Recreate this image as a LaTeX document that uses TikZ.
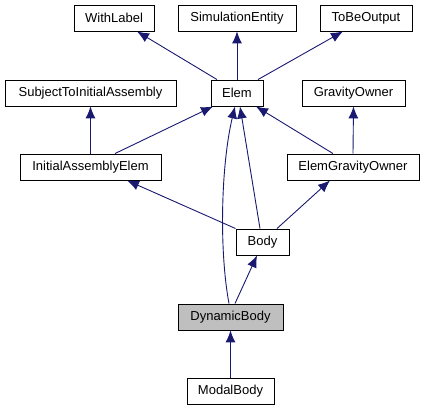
\documentclass[tikz,border=0pt]{standalone}
\usepackage{fontspec}
\setmainfont{Liberation Sans}
\usepackage{tikz}
\usetikzlibrary{arrows.meta,positioning}

\begin{document}
\begin{tikzpicture}[x=1pt,y=-1pt,
	cls/.style={draw=black,fill=white,line width=0.9pt,inner sep=0pt,minimum height=26pt,font=\fontsize{13}{15}\selectfont},
	inherit/.style={draw=navyline,line width=0.9pt,-{Latex[length=12pt,width=10pt]}}]
	\definecolor{navyline}{HTML}{191970}
	\useasboundingbox (0,0) rectangle (424,411);
	%% the classes
	\node[cls,minimum width=80pt] (withlabel) at (114,18) {WithLabel};
	\node[cls,minimum width=118pt] (simentity) at (237,18) {SimulationEntity};
	\node[cls,minimum width=92pt] (tobeoutput) at (366,18) {ToBeOutput};
	\node[cls,minimum width=171pt] (subjtia) at (90.5,93) {SubjectToInitialAssembly};
	\node[cls,minimum width=52pt] (elem) at (237,93) {Elem};
	\node[cls,minimum width=103pt] (gravowner) at (353.5,93) {GravityOwner};
	\node[cls,minimum width=141pt] (iaelem) at (90.5,167) {InitialAssemblyElem};
	\node[cls,minimum width=132pt] (elemgrav) at (353,167) {ElemGravityOwner};
	\node[cls,minimum width=53pt] (body) at (262.5,242) {Body};
	\node[cls,minimum width=105pt,fill=black!25] (dynbody) at (230.5,317) {DynamicBody};
	\node[cls,minimum width=87pt] (modalbody) at (230.5,391.5) {ModalBody};
	%% the inheritance arrows
	\draw[inherit] ([xshift=-20pt]elem.north) -- ([xshift=23pt]withlabel.south);
	\draw[inherit] (elem.north) -- (simentity.south);
	\draw[inherit] ([xshift=21pt]elem.north) -- ([xshift=-23pt]tobeoutput.south);
	\draw[inherit] (iaelem.north) -- (subjtia.south);
	\draw[inherit] ([xshift=24.5pt]iaelem.north) -- ([xshift=-24pt]elem.south);
	\draw[inherit] ([xshift=-20pt]elemgrav.north) -- ([xshift=19pt]elem.south);
	\draw[inherit] (elemgrav.north) -- (gravowner.south);
	\draw[inherit] (body.north west) -- ([xshift=36.5pt]iaelem.south);
	\draw[inherit] ([xshift=-2.5pt]body.north) -- ([xshift=3pt]elem.south);
	\draw[inherit] ([xshift=14.5pt]body.north) -- ([xshift=-23pt]elemgrav.south);
	\draw[inherit] ([xshift=-1.5pt]dynbody.north) .. controls (219,250) and (221,165) .. ([xshift=-2pt]elem.south);
	\draw[inherit] ([xshift=4.5pt]dynbody.north) -- ([xshift=-5.5pt]body.south);
	\draw[inherit] (modalbody.north) -- (dynbody.south);
\end{tikzpicture}
\end{document}
